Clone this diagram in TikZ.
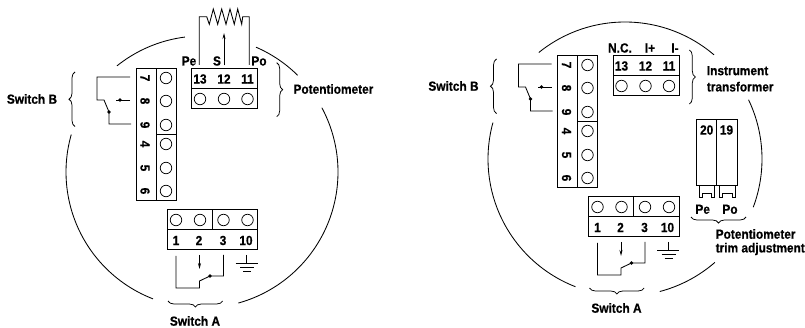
\documentclass[tikz,border=0pt]{standalone}
\usepackage{fontspec}
\setmainfont[BoldFeatures={FakeBold=0.6,FakeStretch=0.9}]{Liberation Sans}
\usetikzlibrary{decorations.pathreplacing,arrows.meta}
\tikzset{
  wire/.style={line width=0.85pt,line join=miter},
  boxl/.style={line width=1pt},
  lab/.style={font=\fontsize{13.2}{14}\selectfont\bfseries,inner sep=0pt,text=black},
  labl/.style={lab,anchor=west},
  term/.style={lab,rotate=-90},
  hole/.style={circle,draw,line width=0.75pt,minimum size=11.5pt,inner sep=0pt},
  dotm/.style={circle,fill=black,minimum size=3.6pt,inner sep=0pt},
  bracep/.style={line width=0.75pt,decorate,decoration={brace,amplitude=6pt,aspect=0.5}},
  casing/.style={line width=0.85pt},
  tip/.style={-{Stealth[length=6pt,width=3pt]}}
}
\newcommand{\sideblock}[2]{%
  \begin{scope}[shift={(#1,#2)}]
    \draw[boxl] (136,69) rectangle (176,201);
    \draw[boxl] (156,69) -- (156,201);
    \draw[boxl] (156,135) -- (176,135);
    \foreach \t/\y in {7/78,8/101,9/125,4/144,5/168,6/191}{
      \node[term] (s\t) at (145,\y) {\t};
      \node[hole] (h\t) at (166,\y) {};
    }
    % switch B
    \coordinate (b7) at (130,77);
    \coordinate (b7c) at (97,77);
    \coordinate (b8c) at (97,100);
    \coordinate (b8d) at (104,100);
    \coordinate (b9c) at (109,124);
    \coordinate (b9) at (131,124);
    \node[dotm] (bj) at (109,112) {};
    \node[dotm] (bm) at (120,100) {};
    \coordinate (bm1) at (130,100);
    \coordinate (bm2) at (116,100);
    \draw[wire] (b7) -- (b7c) -- (b8c) -- (b8d) -- (bj.center) -- (b9c) -- (b9);
    \draw[wire] (bm1) -- (bm2);
    \draw[bracep] (75,126.5) -- (75,72);
    \node[lab] (swb) at (32,99) {Switch B};
    % bottom block
    \draw[boxl] (167,210) rectangle (257.5,250);
    \draw[boxl] (167,230) -- (257.5,230);
    \draw[boxl] (212,210) -- (212,230);
    \foreach \n/\x/\tx in {1/176/176,2/200/199,3/223.5/223,10/247.5/246}{
      \node[hole] (c\n) at (\x,220) {};
      \node[lab] (t\n) at (\tx,240.5) {\n};
    }
    % switch A
    \coordinate (a1) at (176,256);
    \coordinate (a1c) at (176,288);
    \coordinate (a2c) at (199.5,288);
    \coordinate (a2d) at (199.5,281);
    \node[dotm] (aj) at (210,276) {};
    \coordinate (a3c) at (223.5,276);
    \coordinate (a3) at (223.5,255);
    \draw[wire] (a1) -- (a1c) -- (a2c) -- (a2d) -- (aj.center) -- (a3c) -- (a3);
    \coordinate (am1) at (199.5,255);
    \coordinate (am2) at (199.5,269);
    \draw[wire,tip] (am1) -- (am2);
    % ground
    \coordinate (g0) at (246.7,255);
    \coordinate (g1) at (246.7,263);
    \draw[wire] (g0) -- (g1);
    \draw[wire] (235.7,263) -- (257.7,263);
    \draw[wire] (240,267.7) -- (254,267.7);
    \draw[wire] (243,271.7) -- (251,271.7);
    \draw[bracep] (222.7,301) -- (168,301);
    \node[lab] (swa) at (195,321) {Switch A};
    % top block
    \draw[boxl] (191.5,68.5) rectangle (257.5,108.5);
    \draw[boxl] (191.5,88.5) -- (257.5,88.5);
    \foreach \n/\x in {13/200,12/224,11/247.5}{
      \node[lab] (u\n) at (\x,79) {\n};
      \node[hole] (v\n) at (\x,99) {};
    }
  \end{scope}}
\begin{document}
\begin{tikzpicture}[x=1pt,y=-1pt]
\useasboundingbox (0,0) rectangle (805,328);
% ---- left
\sideblock{0}{0}
\draw[casing] plot[smooth,domain=231.3:262.8,samples=20] ({202+136*cos(\x)},{172+136*sin(\x)});
\draw[casing] plot[smooth,domain=-66.6:-45.3,samples=20] ({202+136*cos(\x)},{172+136*sin(\x)});
\draw[casing] plot[smooth,domain=-28.2:74.5,samples=50] ({202+136*cos(\x)},{172+136*sin(\x)});
\draw[casing] plot[smooth,domain=111.1:196,samples=50] ({202+136*cos(\x)},{172+136*sin(\x)});
\node[lab] (pe) at (189,61) {Pe};
\node[lab] (s) at (217,61) {S};
\node[lab] (po) at (259,61) {Po};
\coordinate (r1) at (199.3,65);
\coordinate (r2) at (249.3,65);
\coordinate (r3) at (224,65.5);
\coordinate (r4) at (224,33);
\draw[wire] (r1) -- (199.3,16.7) -- (206.7,16.7) -- (209.3,24.3) -- (213.3,9) -- (217.7,24.3) -- (221.7,9) -- (226,24.3) -- (230,9) -- (234.3,24.3) -- (237.7,9) -- (241.7,24.3) -- (242.7,16.7) -- (249.3,16.7) -- (r2);
\draw[wire,tip] (r3) -- (r4);
\draw[bracep] (276.7,62.7) -- (276.7,116.7);
\node[labl] (pot) at (293.3,89) {Potentiometer};
% ---- right
\sideblock{421.5}{-13}
\draw[casing] plot[smooth,domain=231:310.5,samples=40] ({625+137*cos(\x)},{159+137*sin(\x)});
\draw[casing] plot[smooth,domain=-25.6:20.6,samples=30] ({625+137*cos(\x)},{159+137*sin(\x)});
\draw[casing] plot[smooth,domain=49:75.3,samples=20] ({625+137*cos(\x)},{159+137*sin(\x)});
\draw[casing] plot[smooth,domain=111.2:195.4,samples=50] ({625+137*cos(\x)},{159+137*sin(\x)});
\node[lab] (nc) at (620,48) {N.C.};
\node[lab] (ip) at (650,48) {I+};
\node[lab] (im) at (675,48) {I-};
\draw[bracep] (689.3,50) -- (689.3,104);
\node[labl] (it1) at (706.7,70.7) {Instrument};
\node[labl] (it2) at (706.7,86.7) {transformer};
% trim block
\draw[boxl] (696.7,119.3) rectangle (737.3,186);
\draw[boxl] (716.7,119.3) -- (716.7,186);
\node[lab] (n20) at (706.7,130) {20};
\node[lab] (n19) at (726.5,130) {19};
\draw[wire] (699.5,186) -- (699.5,197) -- (702.5,197) -- (702.5,193) -- (711,193) -- (711,197) -- (714,197) -- (714,186);
\draw[wire] (719.5,186) -- (719.5,197) -- (722.5,197) -- (722.5,193) -- (732,193) -- (732,197) -- (735,197) -- (735,186);
\node[lab] (pe2) at (702.7,209.3) {Pe};
\node[lab] (po2) at (730,209.3) {Po};
\draw[bracep] (746,217) -- (691,217);
\node[labl] (tr1) at (715.5,234) {Potentiometer};
\node[labl] (tr2) at (715.5,249) {trim adjustment};
\end{tikzpicture}
\end{document}
